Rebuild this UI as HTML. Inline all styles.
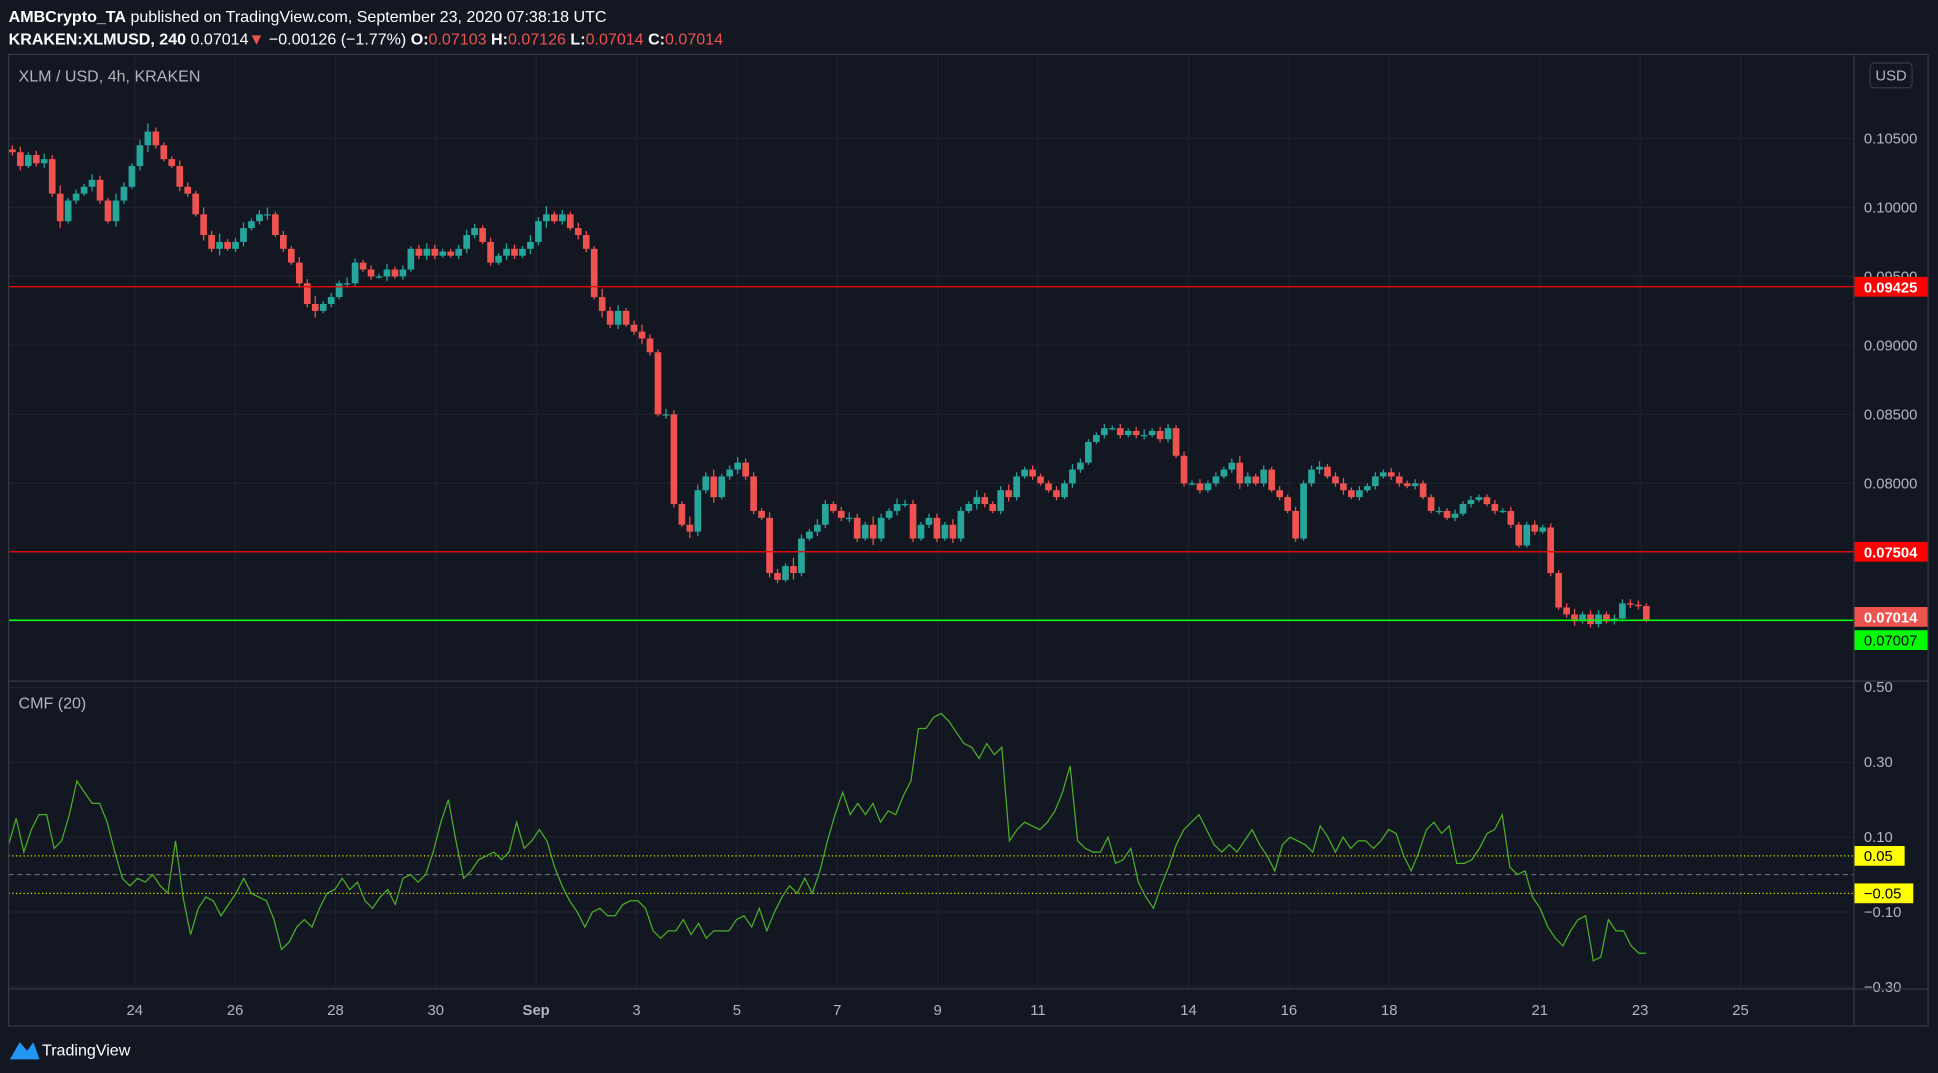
<!DOCTYPE html>
<html><head><meta charset="utf-8"><style>
html,body{margin:0;padding:0;background:#131722;width:1938px;height:1073px;overflow:hidden}
svg{display:block}
text{font-family:"Liberation Sans",sans-serif}
</style></head><body>
<svg id="chart" width="1938" height="1073" viewBox="0 0 1568 868" preserveAspectRatio="none" xmlns="http://www.w3.org/2000/svg">
<rect x="0" y="0" width="1568" height="868" fill="#131722"/>
<g>
<text x="7" y="18" font-size="13" fill="#fff"><tspan font-weight="bold">AMBCrypto_TA</tspan> published on TradingView.com, September 23, 2020 07:38:18 UTC</text>
<text x="7" y="36" font-size="13" fill="#fff"><tspan font-weight="bold">KRAKEN:XLMUSD, 240</tspan> 0.07014<tspan fill="#ef5350">▼</tspan> −0.00126 (−1.77%) <tspan font-weight="bold">O:</tspan><tspan fill="#ef5350">0.07103</tspan> <tspan font-weight="bold">H:</tspan><tspan fill="#ef5350">0.07126</tspan> <tspan font-weight="bold">L:</tspan><tspan fill="#ef5350">0.07014</tspan> <tspan font-weight="bold">C:</tspan><tspan fill="#ef5350">0.07014</tspan></text>
</g>
<g id="grid"></g>
<g id="marks"></g>
<g id="axes"></g>
<rect x="7" y="44" width="1553" height="786" fill="none" stroke="#363a45"/>
<line x1="7" y1="551" x2="1560" y2="551" stroke="#363a45"/>
<line x1="1500" y1="44" x2="1500" y2="830" stroke="#363a45"/>
<line x1="7" y1="800" x2="1560" y2="800" stroke="#363a45"/>
<text x="15" y="66" font-size="13" fill="#b2b5be">XLM / USD, 4h, KRAKEN</text>
<text x="15" y="573" font-size="13" fill="#b2b5be">CMF (20)</text>
<rect x="1513" y="51" width="34" height="20" rx="3" fill="#131722" stroke="#363a45"/>
<text x="1530" y="65" font-size="12" fill="#b2b5be" text-anchor="middle">USD</text>
<g>
<path d="M8 857 L16 843 L22 850 L27 843 L32 857 Z" fill="#2196f3"/>
<text x="34" y="854" font-size="13" fill="#fff">TradingView</text>
</g>
</svg>
<script>
const closes=[0.1040,0.1030,0.1038,0.1032,
0.1035,0.1010,0.0990,0.1005,0.1010,0.1015,0.1020,0.1005,0.0990,0.1005,0.1015,0.1030,0.1045,0.1055,
0.1045,0.1035,0.1030,0.1015,0.1010,0.0995,0.0980,0.0970,0.0975,0.0970,0.0975,
0.0985,0.0990,0.0995,0.0995,0.0980,0.0970,0.0960,0.0945,0.0930,0.0925,0.0930,0.0935,
0.0945,0.0945,0.0960,0.0955,0.0950,0.0950,0.0955,0.0950,0.0955,0.0970,0.0965,0.0970,
0.0965,0.0968,0.0965,0.0970,0.0980,0.0985,0.0975,0.0960,0.0965,0.0970,0.0965,0.0970,0.0975,
0.0990,0.0995,0.0990,0.0995,0.0985,0.0980,0.0970,0.0935,0.0925,0.0915,0.0925,0.0915,0.0910,
0.0905,0.0895,0.0850,0.0850,0.0785,0.0770,0.0765,0.0795,0.0805,0.0790,0.0805,0.0810,0.0815,0.0805,
0.0780,0.0775,0.0735,0.0730,0.0740,0.0735,0.0760,0.0765,0.0770,0.0785,0.0780,0.0775,
0.0775,0.0760,0.0770,0.0760,0.0775,0.0780,0.0785,0.0785,0.0760,0.0770,0.0775,0.0760,0.0770,
0.0760,0.0780,0.0785,0.0790,0.0785,0.0780,0.0795,0.0790,0.0805,0.0810,0.0805,0.0800,0.0795,
0.0790,0.0800,0.0810,0.0815,0.0830,0.0835,0.0840,0.0840,0.0835,0.0838,0.0835,0.0835,0.0838,0.0832,
0.0840,0.0820,0.0800,0.0800,0.0795,0.0800,0.0805,
0.0810,0.0815,0.0800,0.0805,0.0800,0.0810,0.0795,0.0790,0.0780,0.0760,
0.0800,0.0810,0.0812,0.0805,0.0800,0.0795,0.0790,0.0795,0.0798,0.0805,0.0808,0.0805,0.0800,
0.0798,0.0800,0.0790,0.0780,0.0780,0.0775,0.0778,0.0785,0.0788,0.0790,0.0785,0.0780,0.0780,0.0770,0.0755,0.0770,0.0765,0.0768,
0.0735,0.0710,0.0705,0.0700,0.0705,0.0698,0.0705,0.0700,0.0702,0.0713,0.0712,0.0711,0.0701];
const firstOpen=0.1042;
const wicks=[3,4,2,3,4,3,6,2,3,2,4,3,2,5,3,2,4,6,3,2,2,4,3,2,5,3,6,2,3,4,2,3,5,2,3,2,4,3,6,2,3,2,4,3,2,3,2,4,2,3,2,3,4,
3,2,2,3,4,3,2,3,2,4,3,2,5,3,6,2,3,2,4,3,2,6,3,4,2,3,5,3,2,4,3,2,6,4,3,5,2,3,4,3,3,2,4,3,2,6,3,2,4,3,2,
3,4,3,2,6,3,2,4,3,3,2,3,3,2,4,3,2,5,3,2,3,4,3,2,3,2,2,3,2,4,3,2,2,3,2,3,2,3,4,2,3,3,2,3,2,3,2,3,2,3,
5,3,2,3,2,3,2,3,2,3,4,2,3,4,2,3,2,3,2,3,3,2,3,2,2,3,2,3,2,3,2,2,3,2,3,2,2,3,2,3,2,3,4,2,3,3,2,3,3,3,3,2,4,2,3,4,2,5,2,3];
const priceTicks=[0.105,0.100,0.095,0.090,0.085,0.080,0.075];
const priceTickLabels=["0.10500","0.10000","0.09500","0.09000","0.08500","0.08000","0.07500"];
const levels=[0.09425,0.07504];
const supportLevel=0.07007;
const lastPrice=0.07014;
const cmf=[.08,.15,.06,.12,.16,.16,.07,.09,.16,.25,.22,.19,.19,.14,.06,-.01,-.03,-.01,-.02,0,-.03,-.05,.09,-.06,-.16,-.09,-.06,-.07,-.11,-.08,-.05,-.01,-.05,-.06,-.07,-.12,-.2,-.18,-.14,-.12,-.14,-.09,-.05,-.04,-.01,-.04,-.02,-.07,-.09,-.06,-.04,-.08,-.01,0,-.02,0,.06,.14,.2,.09,-.01,.01,.04,.05,.06,.04,.06,.14,.07,.09,.12,.09,.02,-.03,-.07,-.1,-.14,-.1,-.09,-.11,-.11,-.08,-.07,-.07,-.09,-.15,-.17,-.15,-.15,-.12,-.16,-.13,-.17,-.15,-.15,-.15,-.12,-.11,-.14,-.09,-.15,-.1,-.06,-.03,-.05,-.01,-.05,.01,.09,.16,.22,.16,.19,.16,.19,.14,.17,.16,.21,.25,.39,.39,.42,.43,.41,.38,.35,.34,.31,.35,.32,.34,.09,.12,.14,.13,.12,.14,.17,.22,.29,.09,.07,.06,.06,.1,.03,.04,.07,-.02,-.06,-.09,-.03,.02,.08,.12,.14,.16,.12,.08,.06,.08,.06,.09,.12,.08,.05,.01,.08,.1,.09,.08,.06,.13,.1,.06,.1,.07,.09,.09,.07,.09,.12,.11,.05,.01,.06,.12,.14,.11,.13,.03,.03,.04,.07,.11,.12,.16,.02,0,.01,-.06,-.09,-.14,-.17,-.19,-.15,-.12,-.11,-.23,-.22,-.12,-.15,-.15,-.19,-.21,-.21];
const cmfTicks=[0.5,0.3,0.1,-0.1,-0.3];
const cmfTickLabels=["0.50","0.30","0.10","−0.10","−0.30"];
const cmfBands=[0.05,-0.05];
const cmfBandLabels=["0.05","−0.05"];
const dateLabels=["24","26","28","30","Sep","3","5","7","9","11","14","16","18","21","23","25"];
const dateOffsets=[0,2,4,6,8,10,12,14,16,18,21,23,25,28,30,32]; // days from Aug 24

const NS="http://www.w3.org/2000/svg";
function mk(tag,attrs,parent){const e=document.createElementNS(NS,tag);for(const k in attrs)e.setAttribute(k,attrs[k]);parent.appendChild(e);return e;}
const yP=p=>391+(0.08-p)/0.005*55.8;
const yC=v=>707.5-v*303;
const xDay=d=>109+d*40.6;
const xI=i=>10+i*(1332-10)/(closes.length-1);
const xC=i=>7+i*(1332-7)/(cmf.length-1);
const grid=document.getElementById('grid'),marks=document.getElementById('marks'),axes=document.getElementById('axes');

priceTicks.forEach((p,i)=>{
 const l=mk('line',{x1:7,x2:1500,y1:yP(p),y2:yP(p),stroke:'#1e222d'},grid);
 
 
 const t=mk('text',{x:1508,y:yP(p)+4,'font-size':12,fill:'#b2b5be'},axes);
 t.textContent=priceTickLabels[i];
 
 
});
cmfTicks.forEach((v,i)=>{
 const l=mk('line',{x1:7,x2:1500,y1:yC(v),y2:yC(v),stroke:'#1e222d'},grid);
 
 
 const t=mk('text',{x:1508,y:yC(v)+4,'font-size':12,fill:'#b2b5be'},axes);
 t.textContent=cmfTickLabels[i];
 
 
});
dateLabels.forEach((s,i)=>{
 const x=xDay(dateOffsets[i]);
 const l=mk('line',{x1:x,x2:x,y1:44,y2:800,stroke:'#1e222d'},grid);
 
 
 const t=mk('text',{x:x,y:821,'font-size':12,fill:'#b2b5be','text-anchor':'middle','font-weight':s==='Sep'?'bold':'normal'},axes);
 t.textContent=s;
 
 
});

const zl=mk('line',{x1:7,x2:1500,y1:yC(0),y2:yC(0),stroke:'#787b86','stroke-dasharray':'4 3','stroke-width':0.8},grid);


cmfBands.forEach((v,i)=>{
 const l=mk('line',{x1:7,x2:1500,y1:yC(v),y2:yC(v),stroke:'#e5e500','stroke-dasharray':'1 2','stroke-width':1},grid);
 
 
 const r=mk('rect',{x:1500,y:yC(v)-8,width:i?48:41,height:16,fill:'#ffff00'},axes);
 
 
 const t=mk('text',{x:1508,y:yC(v)+4,'font-size':12,fill:'#000'},axes);
 t.textContent=cmfBandLabels[i];
 
 
});

closes.forEach((c,i)=>{
 const o=i?closes[i-1]:firstOpen;
 const up=c>=o, col=up?'#26a69a':'#ef5350';
 const hi=Math.max(o,c)+wicks[i]*0.0001, lo=Math.min(o,c)-wicks[i]*0.0001*0.8;
 const x=xI(i);
 const g=mk('g',{},marks);
 
 
 mk('line',{x1:x,x2:x,y1:yP(hi),y2:yP(lo),stroke:col,'stroke-width':1},g);
 const top=yP(Math.max(o,c)),h=Math.max(1,yP(Math.min(o,c))-top);
 mk('rect',{x:x-2.7,y:top,width:5.4,height:h,fill:col},g);
});

levels.forEach(p=>{
 const l=mk('line',{x1:7,x2:1500,y1:yP(p),y2:yP(p),stroke:'#ff0000','stroke-width':1},marks);
 
 
 const r=mk('rect',{x:1500,y:yP(p)-8,width:60,height:16,fill:'#ff0000'},axes);
 
 
 const t=mk('text',{x:1508,y:yP(p)+4.5,'font-size':12,fill:'#fff','font-weight':'bold'},axes);
 t.textContent=p.toFixed(5);
 
 
});
{
 const l=mk('line',{x1:7,x2:1500,y1:yP(supportLevel),y2:yP(supportLevel),stroke:'#00ff00','stroke-width':1.3},marks);
 
 
 const r=mk('rect',{x:1500,y:yP(lastPrice)-10,width:60,height:16,fill:'#ef5350'},axes);
 
 
 const t=mk('text',{x:1508,y:yP(lastPrice)+2.5,'font-size':12,fill:'#fff','font-weight':'bold'},axes);
 t.textContent=lastPrice.toFixed(5);
 
 
 const r2=mk('rect',{x:1500,y:yP(supportLevel)+8,width:60,height:16,fill:'#00ff00'},axes);
 
 
 const t2=mk('text',{x:1508,y:yP(supportLevel)+20.5,'font-size':12,fill:'#000'},axes);
 t2.textContent=supportLevel.toFixed(5);
 
 
}

const pl=mk('polyline',{points:cmf.map((v,i)=>xC(i).toFixed(1)+','+yC(v).toFixed(1)).join(' '),fill:'none',stroke:'#4caf2a','stroke-width':1},marks);


</script>
</body></html>
